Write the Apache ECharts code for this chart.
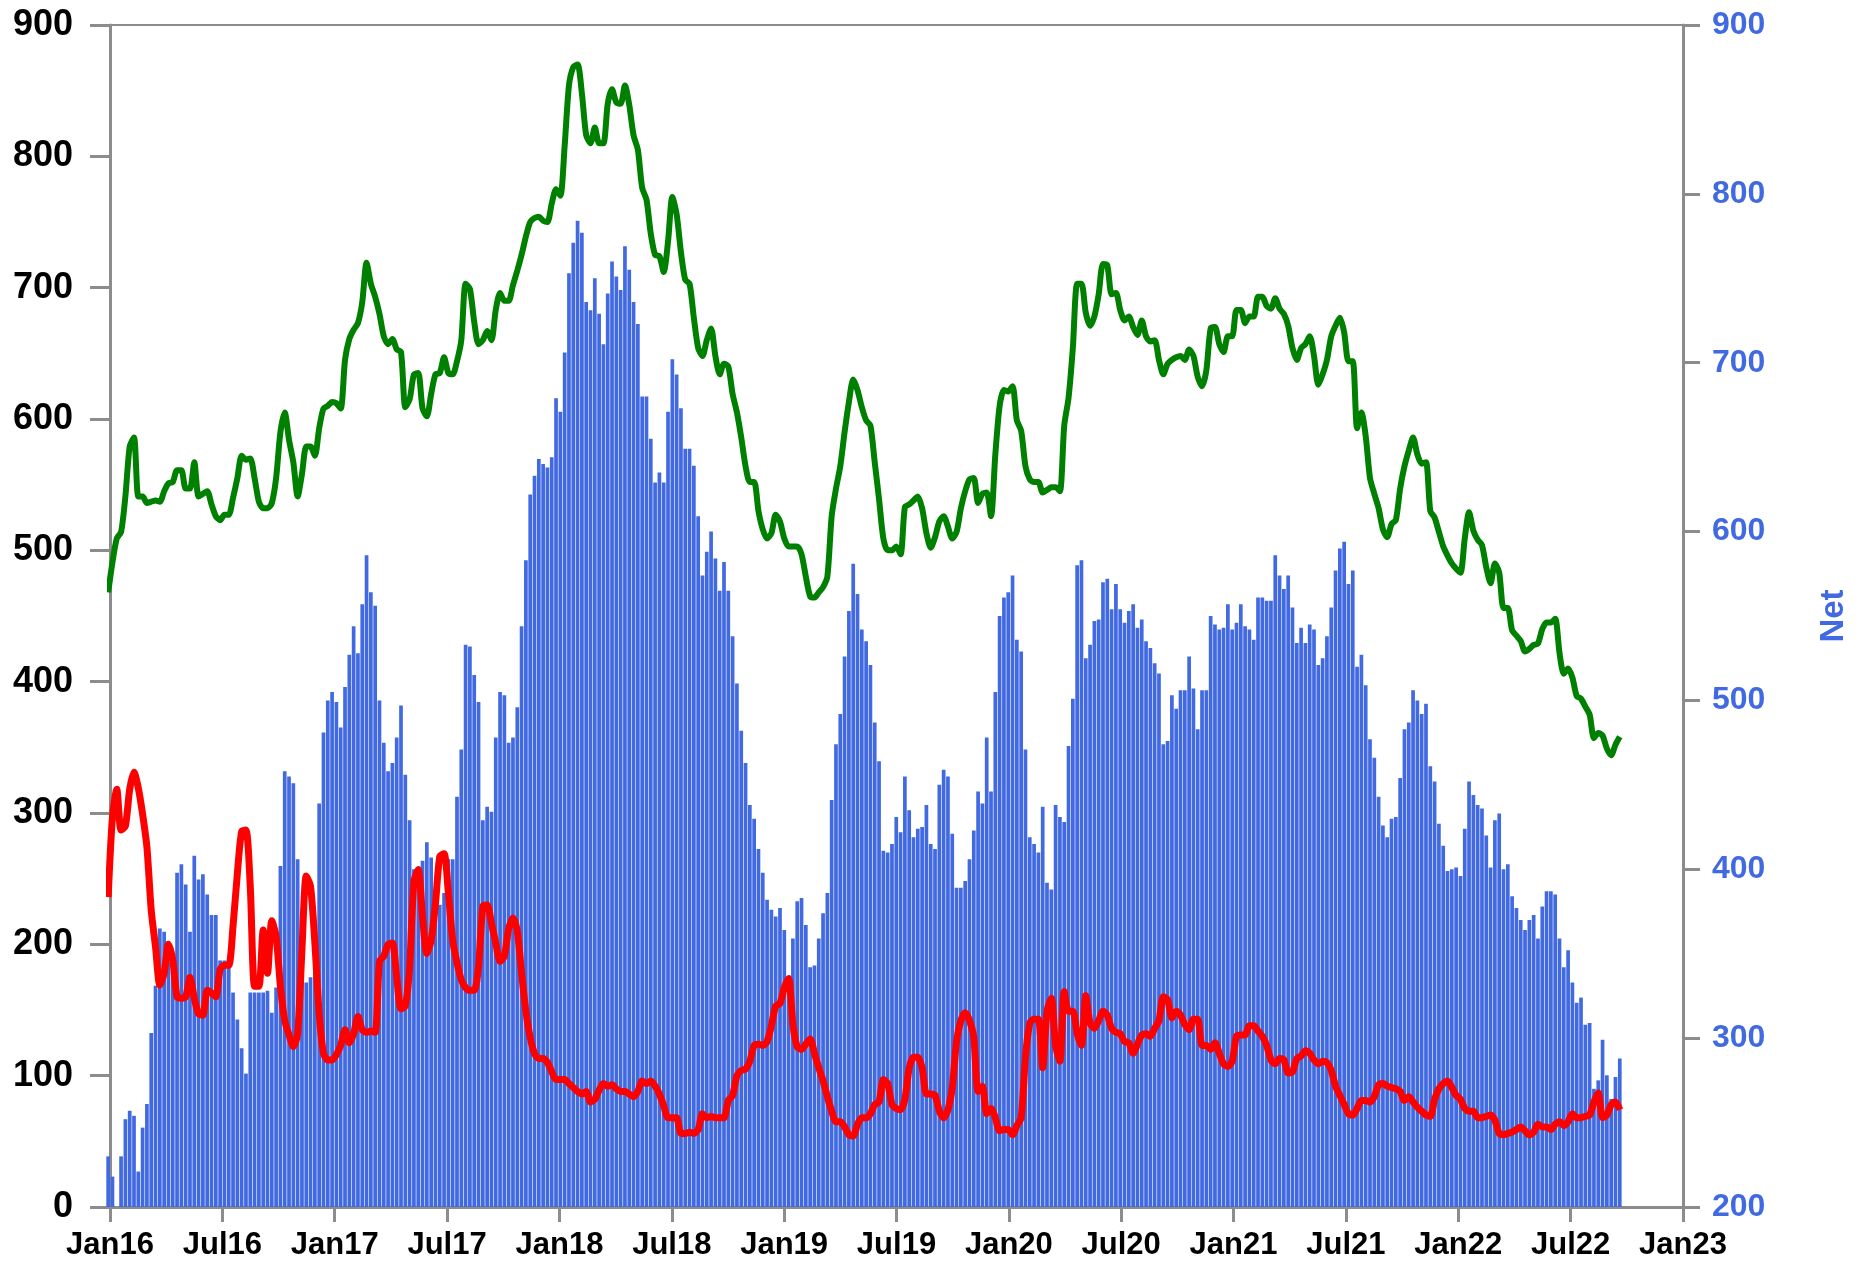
<!DOCTYPE html>
<html lang="en">
<head>
    <meta charset="utf-8">
    <title>Net</title>
    <script src="https://cdn.jsdelivr.net/npm/echarts@6/dist/echarts.min.js"></script>
    <style>
        html, body { margin: 0; padding: 0; background: #fff; }
        #chart { width: 1869px; height: 1268px; }
    </style>
</head>
<body>
<div id="chart"></div>
<script type="text/javascript">
    // weekly data, first week 2015-12-29
    var firstWeek = Date.UTC(2015, 11, 29);
    var xStart = Date.UTC(2016, 0, 1);

    var xTickLabels = ['Jan16', 'Jul16', 'Jan17', 'Jul17', 'Jan18', 'Jul18', 'Jan19', 'Jul19',
        'Jan20', 'Jul20', 'Jan21', 'Jul21', 'Jan22', 'Jul22', 'Jan23'];

    // blue bars, right axis (Net)
    var netValues = [
        230, 218, 200, 230, 252, 257, 254, 221, 247, 261,
        303, 331, 365, 363, 345, 340, 398, 403, 391, 363,
        408, 394, 397, 385, 373, 373, 346, 346, 346, 327,
        311, 294, 279, 327, 327, 327, 327, 328, 315, 330,
        402, 458, 455, 451, 406, 360, 333, 336, 340, 439,
        481, 500, 505, 499, 484, 508, 527, 544, 528, 557,
        586, 564, 556, 500, 475, 458, 463, 478, 497, 456,
        429, 400, 400, 405, 416, 407, 377, 379, 386, 406,
        406, 443, 471, 533, 532, 515, 499, 429, 437, 434,
        478, 505, 503, 475, 478, 496, 544, 583, 622, 633,
        643, 640, 638, 644, 679, 671, 706, 753, 771, 784,
        777, 736, 731, 750, 729, 711, 741, 760, 751, 743,
        769, 755, 736, 723, 680, 680, 655, 629, 635, 629,
        671, 702, 693, 673, 649, 649, 639, 609, 574, 588,
        600, 584, 565, 582, 565, 538, 510, 482, 463, 438,
        430, 412, 398, 382, 376, 372, 377, 364, 330, 359,
        381, 383, 367, 342, 343, 359, 374, 386, 441, 474,
        492, 526, 553, 581, 563, 542, 535, 521, 487, 464,
        411, 410, 415, 431, 422, 455, 435, 419, 424, 425,
        438, 415, 412, 450, 459, 455, 421, 389, 389, 393,
        406, 423, 446, 439, 478, 446, 505, 550, 561, 564,
        574, 536, 529, 471, 419, 415, 410, 437, 392, 388,
        438, 431, 428, 473, 501, 580, 583, 525, 533, 547,
        548, 570, 572, 554, 569, 554, 546, 553, 557, 543,
        548, 535, 531, 522, 516, 474, 476, 503, 495, 506,
        506, 526, 507, 483, 506, 506, 550, 545, 542, 543,
        557, 542, 546, 557, 544, 542, 536, 561, 561, 559,
        559, 586, 574, 566, 574, 555, 534, 543, 534, 545,
        542, 521, 525, 538, 555, 577, 590, 594, 569, 577,
        520, 527, 509, 477, 466, 443, 426, 419, 430, 431,
        454, 483, 487, 506, 500, 492, 498, 461, 452, 427,
        414, 399, 400, 401, 396, 424, 452, 444, 438, 436,
        420, 401, 429, 433, 400, 403, 384, 377, 370, 364,
        370, 373, 359, 378, 387, 387, 385, 359, 342, 352,
        333, 321, 324, 308, 309, 270, 275, 299, 278, 264,
        277, 288
    ];

    // green line, left axis
    var greenValues = [
        468, 491, 509, 514, 541, 579, 586, 541, 541, 536,
        537, 538, 537, 545, 551, 552, 561, 561, 547, 547,
        567, 541, 543, 545, 535, 526, 523, 527, 527, 540,
        555, 572, 569, 570, 555, 537, 532, 532, 536, 555,
        590, 605, 584, 567, 541, 558, 579, 579, 572, 593,
        608, 610, 613, 612, 608, 645, 661, 668, 673, 689,
        719, 703, 693, 680, 663, 657, 661, 653, 651, 609,
        615, 634, 635, 608, 602, 619, 634, 635, 647, 635,
        634, 644, 660, 703, 699, 674, 657, 660, 667, 660,
        683, 696, 690, 690, 702, 713, 725, 739, 750, 753,
        754, 751, 750, 764, 775, 770, 808, 854, 868, 870,
        848, 816, 810, 822, 810, 810, 840, 851, 841, 840,
        854, 839, 816, 805, 776, 767, 741, 725, 724, 712,
        735, 769, 756, 727, 706, 703, 677, 654, 648, 660,
        669, 648, 634, 642, 640, 619, 605, 586, 564, 552,
        552, 530, 516, 509, 513, 527, 522, 509, 503, 503,
        503, 497, 480, 465, 464, 468, 472, 480, 526, 547,
        564, 590, 613, 630, 622, 609, 599, 595, 567, 539,
        509, 500, 500, 503, 497, 533, 535, 538, 541, 532,
        513, 502, 510, 522, 526, 518, 509, 514, 532, 545,
        554, 555, 536, 543, 544, 526, 573, 610, 622, 621,
        625, 599, 591, 564, 554, 552, 552, 544, 546, 548,
        548, 545, 595, 616, 654, 703, 703, 681, 671, 678,
        695, 718, 717, 695, 696, 683, 675, 678, 670, 664,
        675, 663, 659, 660, 645, 634, 642, 645, 647, 648,
        645, 653, 648, 632, 625, 637, 669, 670, 657, 651,
        663, 663, 683, 683, 673, 678, 678, 693, 693, 686,
        684, 692, 684, 680, 671, 654, 645, 654, 657, 663,
        648, 626, 634, 645, 663, 671, 677, 666, 644, 644,
        593, 605, 587, 555, 543, 532, 516, 510, 520, 523,
        547, 564, 576, 586, 573, 566, 567, 530, 525, 514,
        503, 496, 490, 486, 483, 509, 529, 515, 508, 504,
        487, 475, 490, 483, 456, 456, 439, 435, 431, 423,
        425, 428, 429, 440, 445, 445, 448, 422, 406, 410,
        403, 389, 387, 381, 375, 357, 361, 359, 349, 344,
        352, 358
    ];

    // red line, left axis
    var redValues = [
        236, 297, 318, 287, 290, 318, 331, 319, 299, 274,
        226, 198, 169, 178, 200, 188, 160, 159, 160, 175,
        159, 147, 146, 165, 163, 160, 181, 184, 184, 214,
        254, 286, 287, 244, 168, 168, 211, 178, 218, 206,
        168, 142, 131, 122, 132, 196, 252, 244, 201, 147,
        117, 112, 112, 116, 123, 135, 125, 132, 145, 135,
        133, 134, 133, 187, 191, 200, 201, 175, 151, 153,
        183, 248, 257, 221, 193, 203, 231, 267, 269, 239,
        203, 186, 173, 167, 165, 165, 183, 229, 230, 216,
        201, 187, 191, 212, 220, 210, 178, 149, 129, 117,
        113, 113, 110, 103, 97, 97, 97, 94, 91, 88,
        86, 88, 80, 82, 89, 94, 92, 93, 90, 88,
        88, 86, 84, 88, 96, 94, 96, 92, 86, 77,
        68, 68, 68, 56, 56, 57, 56, 59, 71, 68,
        69, 68, 68, 68, 81, 85, 100, 104, 105, 111,
        123, 124, 123, 126, 138, 153, 155, 167, 174, 139,
        122, 120, 124, 128, 117, 106, 96, 84, 73, 65,
        65, 61, 55, 54, 63, 68, 68, 71, 78, 80,
        97, 94, 78, 75, 74, 82, 106, 114, 114, 106,
        86, 86, 85, 73, 68, 74, 91, 126, 142, 148,
        142, 129, 88, 92, 71, 75, 68, 58, 59, 59,
        55, 62, 68, 114, 140, 143, 143, 106, 149, 159,
        123, 111, 164, 149, 149, 132, 123, 161, 140, 136,
        142, 149, 146, 136, 133, 132, 126, 125, 117, 124,
        131, 132, 130, 136, 142, 160, 158, 144, 149, 146,
        139, 135, 143, 143, 123, 123, 120, 125, 117, 109,
        107, 111, 130, 131, 131, 138, 138, 134, 130, 123,
        112, 109, 113, 112, 102, 103, 113, 115, 119, 117,
        112, 109, 111, 110, 104, 92, 85, 78, 71, 70,
        75, 81, 81, 80, 84, 93, 94, 92, 91, 90,
        88, 81, 84, 80, 76, 73, 70, 69, 82, 90,
        94, 96, 91, 85, 82, 75, 73, 73, 68, 68,
        69, 70, 66, 56, 55, 56, 57, 59, 61, 58,
        55, 57, 63, 61, 61, 59, 63, 65, 62, 65,
        71, 68, 68, 69, 70, 80, 87, 68, 70, 78,
        80, 74
    ];

    // x position in years since Jan 2016
    function weekX(i) {
        return (firstWeek + i * 7 * 86400000 - xStart) / 86400000 / 365.25;
    }

    function pairs(values) {
        var out = [];
        for (var i = 0; i < values.length; i++) {
            out.push([weekX(i), values[i]]);
        }
        return out;
    }

    var axisGrey = '#8c8c8c';
    var netBlue = '#4169E1';
    var font = 'Liberation Sans, Arial, sans-serif';

    var chart = echarts.init(document.getElementById('chart'));
    chart.setOption({
        animation: false,
        backgroundColor: '#fff',
        grid: {
            left: 110, right: 186, top: 25, bottom: 61,
            show: true, borderColor: axisGrey, borderWidth: 2
        },
        xAxis: {
            type: 'value',
            min: 0,
            max: 7,
            interval: 0.5,
            axisLine: { show: true, lineStyle: { color: axisGrey, width: 3 } },
            axisTick: { show: true, length: 15, lineStyle: { color: axisGrey, width: 3 } },
            splitLine: { show: false },
            axisLabel: {
                margin: 23,
                color: '#000',
                fontSize: 31,
                fontWeight: 'bold',
                fontFamily: font,
                showMinLabel: true,
                showMaxLabel: true,
                formatter: function (v) {
                    return xTickLabels[Math.round(v * 2)] || '';
                }
            }
        },
        yAxis: [
            {
                type: 'value',
                position: 'left',
                min: 0,
                max: 900,
                interval: 100,
                axisLine: { show: true, lineStyle: { color: axisGrey, width: 3 } },
                axisTick: { show: true, length: 20, lineStyle: { color: axisGrey, width: 3 } },
                splitLine: { show: false },
                axisLabel: { margin: 37, color: '#000', fontSize: 36, fontWeight: 'bold', fontFamily: font }
            },
            {
                type: 'value',
                position: 'right',
                min: 200,
                max: 900,
                interval: 100,
                name: 'Net',
                nameLocation: 'middle',
                nameGap: 134,
                nameRotate: 90,
                nameTextStyle: { color: netBlue, fontSize: 33, fontWeight: 'bold', fontFamily: font },
                axisLine: { show: true, lineStyle: { color: axisGrey, width: 3 } },
                axisTick: { show: true, length: 17, lineStyle: { color: axisGrey, width: 3 } },
                splitLine: { show: false },
                axisLabel: { margin: 29, color: netBlue, fontSize: 32, fontWeight: 'bold', fontFamily: font }
            }
        ],
        series: [
            {
                name: 'Net',
                type: 'bar',
                yAxisIndex: 1,
                barWidth: 3.7,
                clip: true,
                itemStyle: { color: netBlue },
                data: pairs(netValues)
            },
            {
                name: 'green',
                type: 'line',
                yAxisIndex: 0,
                showSymbol: false,
                smooth: 0.25,
                clip: true,
                lineStyle: { color: '#008000', width: 6 },
                data: pairs(greenValues)
            },
            {
                name: 'red',
                type: 'line',
                yAxisIndex: 0,
                showSymbol: false,
                smooth: 0.25,
                clip: true,
                lineStyle: { color: '#ff0000', width: 7 },
                data: pairs(redValues)
            }
        ]
    });
</script>
</body>
</html>
